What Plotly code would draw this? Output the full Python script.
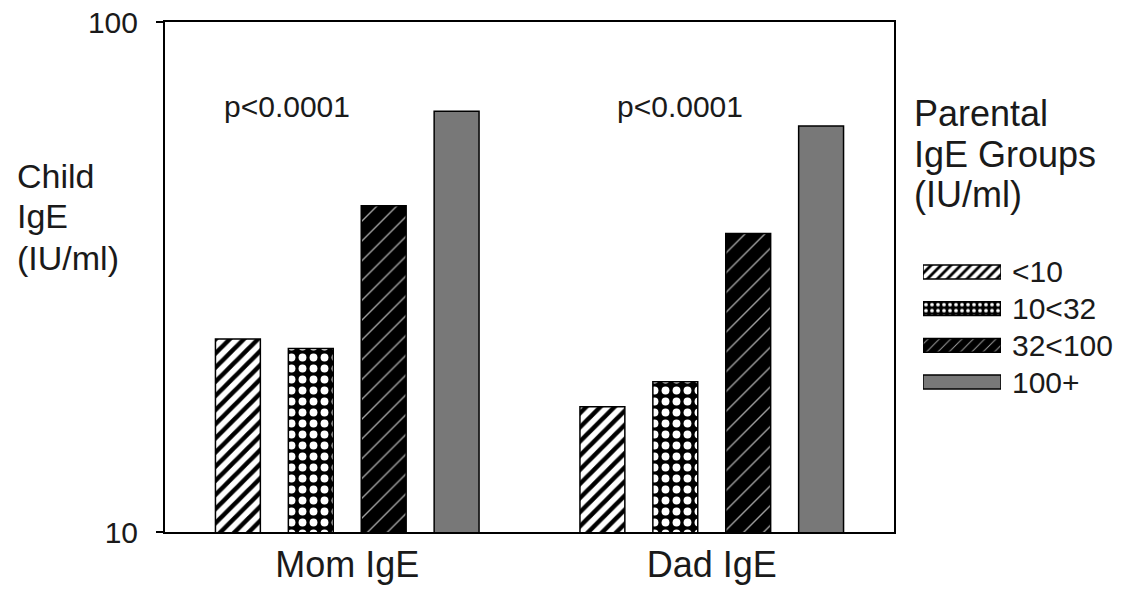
import plotly.graph_objects as go

# ---- data ----
categories = ["Mom IgE", "Dad IgE"]
group_names = ["<10", "10<32", "32<100", "100+"]
lt10 = [23.9, 17.6]
g10_32 = [22.9, 19.7]
g32_100 = [43.6, 38.5]
g100p = [66.8, 62.5]
p_labels = ["p<0.0001", "p<0.0001"]
y_ticks = [10, 100]
ytitle_lines = ["Child", "IgE", "(IU/ml)"]
legend_title_lines = ["Parental", "IgE Groups", "(IU/ml)"]

series = [lt10, g10_32, g32_100, g100p]

# ---- styles (per group) ----
FONT = "Liberation Sans, Arial, sans-serif"
TXT = "#1a1a1a"
shapes_ = ["/", ".", "/", ""]
fg = ["black", "white", "#a0a0a0", "#787878"]
bg = ["white", "black", "black", "#787878"]
psize = [10, 11, 14, 8]
psol = [0.45, 0.4, 0.1, 0.3]
leg_size = [7, 6, 8, 8]
leg_sol = [0.4, 0.3, 0.12, 0.3]
colors = ["white", "black", "black", "#787878"]

fig = go.Figure()
for i, (name, vals) in enumerate(zip(group_names, series)):
    fig.add_trace(go.Bar(
        x=categories, y=vals, name=name, showlegend=False,
        marker=dict(color=colors[i], line=dict(color="black", width=1.5),
                    pattern=dict(shape=shapes_[i], fgcolor=fg[i], bgcolor=bg[i],
                                 size=psize[i], solidity=psol[i], fillmode="replace")),
        xaxis="x", yaxis="y",
    ))

# legend built as a small horizontal bar panel (one swatch per group)
for i, name in enumerate(group_names):
    fig.add_trace(go.Bar(
        y=[name], x=[1], orientation="h", showlegend=False, name=name,
        width=0.38, offsetgroup="legend",
        marker=dict(color=colors[i], line=dict(color="black", width=1.5),
                    pattern=dict(shape=shapes_[i], fgcolor=fg[i], bgcolor=bg[i],
                                 size=leg_size[i], solidity=leg_sol[i], fillmode="replace")),
        xaxis="x2", yaxis="y2", hoverinfo="skip",
    ))

W, H = 1130, 590
L, R, T, B = 165, 10, 22, 58
pw = W - L - R
ph = H - T - B

def px_x(x):
    return (x - L) / pw

def px_y(y):
    return (H - B - y) / ph

fig.update_layout(
    width=W, height=H,
    margin=dict(l=L, r=R, t=T, b=B, autoexpand=False),
    paper_bgcolor="white", plot_bgcolor="white",
    barmode="group", bargap=0.2, bargroupgap=0.384,
    font=dict(family=FONT, size=30, color=TXT),
    xaxis=dict(domain=[0, px_x(894)], showline=True, linecolor="black", linewidth=2,
               mirror=True, ticks="", showgrid=False, zeroline=False, automargin=False,
               tickfont=dict(size=36, family=FONT, color=TXT), ticklabelstandoff=0),
    yaxis=dict(type="log", range=[1, 2], tickvals=y_ticks, ticktext=[str(v) for v in y_ticks],
               showline=True, linecolor="black", linewidth=2, mirror=True,
               ticks="outside", ticklen=7, tickwidth=2, tickcolor="black",
               showgrid=False, zeroline=False, automargin=False,
               tickfont=dict(size=30, family=FONT, color=TXT), ticklabelstandoff=12),
    xaxis2=dict(domain=[px_x(923), px_x(1001)], anchor="y2", range=[0, 1],
                visible=False, fixedrange=True),
    yaxis2=dict(domain=[px_y(400.4), px_y(253.6)], anchor="x2", side="right",
                autorange="reversed", showline=False, ticks="", showgrid=False,
                zeroline=False, automargin=False, tickmode="array", tickvals=group_names,
                tickfont=dict(size=30, family=FONT, color=TXT),
                ticklabelstandoff=10),
)

# p-value labels
for cx, txt in zip([287, 680], p_labels):
    fig.add_annotation(x=px_x(cx), y=px_y(107), xref="paper", yref="paper",
                       text=txt, showarrow=False, xanchor="center", yanchor="middle",
                       font=dict(size=30, family=FONT, color=TXT))

# y axis title (one annotation per line)
for yc, line in zip([176, 216, 258], ytitle_lines):
    fig.add_annotation(x=px_x(15), y=px_y(yc), xref="paper", yref="paper",
                       text=line, showarrow=False, align="left",
                       xanchor="left", yanchor="middle",
                       font=dict(size=34, family=FONT, color=TXT))

# legend title (one annotation per line)
for yc, line in zip([113, 155, 194], legend_title_lines):
    fig.add_annotation(x=px_x(912), y=px_y(yc), xref="paper", yref="paper",
                       text=line, showarrow=False, align="left",
                       xanchor="left", yanchor="middle",
                       font=dict(size=36, family=FONT, color=TXT))

fig.write_html("out.html")
